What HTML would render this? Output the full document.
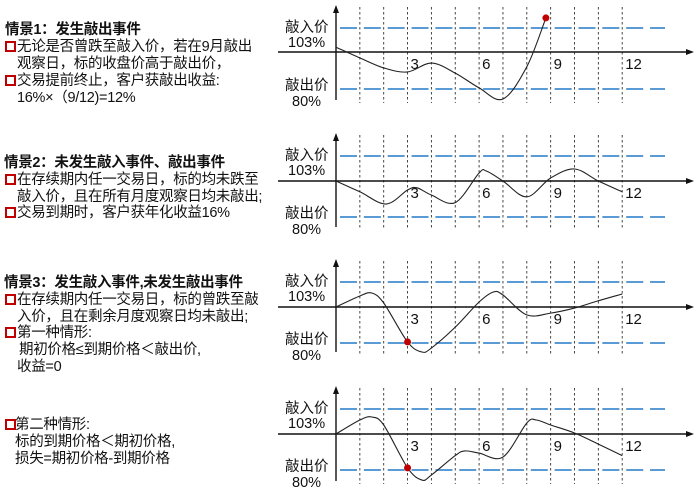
<!DOCTYPE html>
<html><head><meta charset="utf-8">
<style>
body{margin:0;width:700px;height:492px;background:#fff;position:relative;overflow:hidden;font-family:"Liberation Sans","Noto Sans CJK SC",sans-serif;color:#111}
.t{position:absolute;font-size:14.5px;line-height:18px;white-space:nowrap;letter-spacing:-0.3px}
.h{font-weight:bold;font-size:14.5px}
.b{position:absolute;border:2px solid #c00000;box-sizing:content-box;width:7px;height:7px}
svg{position:absolute;left:0;top:0}
</style></head><body>
<div class="t h" style="left:5px;top:21px">情景1：发生敲出事件</div>
<div class="b" style="left:5px;top:41px"></div>
<div class="t" style="left:17px;top:38px">无论是否曾跌至敲入价，若在9月敲出</div>
<div class="t" style="left:17px;top:55px">观察日，标的收盘价高于敲出价，</div>
<div class="b" style="left:5px;top:75px"></div>
<div class="t" style="left:17px;top:72px">交易提前终止，客户获敲出收益:</div>
<div class="t" style="left:17px;top:89px">16%×（9/12)=12%</div>

<div class="t h" style="left:4px;top:154px">情景2：未发生敲入事件、敲出事件</div>
<div class="b" style="left:5px;top:174px"></div>
<div class="t" style="left:17px;top:171px">在存续期内任一交易日，标的均未跌至</div>
<div class="t" style="left:17px;top:188px">敲入价，且在所有月度观察日均未敲出;</div>
<div class="b" style="left:5px;top:207px"></div>
<div class="t" style="left:17px;top:204px">交易到期时，客户获年化收益16%</div>

<div class="t h" style="left:4px;top:274px">情景3：发生敲入事件,未发生敲出事件</div>
<div class="b" style="left:5px;top:294px"></div>
<div class="t" style="left:17px;top:291px">在存续期内任一交易日，标的曾跌至敲</div>
<div class="t" style="left:17px;top:308px">入价，且在剩余月度观察日均未敲出;</div>
<div class="b" style="left:5px;top:327px"></div>
<div class="t" style="left:17px;top:324px">第一种情形:</div>
<div class="t" style="left:19px;top:341px">期初价格≤到期价格＜敲出价,</div>
<div class="t" style="left:17px;top:358px">收益=0</div>
<div class="b" style="left:5px;top:419px"></div>
<div class="t" style="left:15px;top:416px">第二种情形:</div>
<div class="t" style="left:15px;top:433px">标的到期价格＜期初价格,</div>
<div class="t" style="left:15px;top:450px">损失=期初价格-到期价格</div>

<svg id="chart" width="700" height="492"></svg>
<script>
const tickLabels=["3","6","9","12"];
const tickMonths=[3,6,9,12];
const months1=[0,1,2,3,4,5,6,7,8,8.8];
const values1=[0.2,-0.16,-0.43,-0.54,-0.3,-0.57,-0.97,-1.27,-0.4,1.42];
const months2=[0,1,2.1,3,3.4,4,5,6,6.3,7,8,9,10,11,12];
const values2=[0,-0.3,-0.64,-0.25,-0.19,-0.39,-0.6,0.32,0.4,0,-0.44,0.12,0.48,0,-0.3];
const months3=[0,1,1.5,2,3,3.6,4,5,6,6.6,7,8,9,10,11,12];
const values3=[0,0.44,0.56,0.16,-0.97,-1.25,-1.14,-0.56,0.2,0.6,0.48,-0.22,-0.17,-0.03,0.25,0.52];
const months4=[0,1,1.5,2,3,3.6,4,5,5.4,6,7,8,8.4,9,10,11,12];
const values4=[0,0.56,0.68,0.36,-0.94,-1.28,-1.14,-0.6,-0.47,-0.53,-0.64,0.44,0.56,0.36,0.04,-0.28,-0.6];
const dotMonths=[8.8,null,3,3];
const dotValues=[1.42,null,-0.97,-0.94];
const panels=[
 {axis:52,up:28,lo:89,top:5,bot:103,m:months1,v:values1},
 {axis:181,up:156,lo:217,top:133,bot:230,m:months2,v:values2},
 {axis:307,up:282,lo:343,top:259,bot:355,m:months3,v:values3},
 {axis:434,up:409,lo:470,top:386,bot:484,m:months4,v:values4}];
const NS="http://www.w3.org/2000/svg";
const svg=document.getElementById('chart');
function mk(tag,attrs,parent){const e=document.createElementNS(NS,tag);for(const k in attrs)e.setAttribute(k,attrs[k]);(parent||svg).appendChild(e);return e;}
const X0=336,UNIT=23.85;
function xs(m){return X0+m*UNIT;}
panels.forEach((p,pi)=>{
 const g=mk('g',{});
 
 
 const ys=v=>v>=0?p.axis-v*(p.axis-p.up):p.axis-v*(p.lo-p.axis);
 for(let i=1;i<=12;i++){
  const l=mk('line',{x1:xs(i),x2:xs(i),y1:p.top+2,y2:p.bot,stroke:'#333','stroke-width':0.9,'stroke-dasharray':'2.5,2.5'},g);
  
  
 }
 [p.up,p.lo].forEach((y,j)=>{
  const l=mk('line',{x1:340,x2:665,y1:y,y2:y,stroke:'#5b9bd5','stroke-width':2,'stroke-dasharray':'17,6.85'},g);
  
  
 });
 const xa=mk('line',{x1:278,x2:688,y1:p.axis,y2:p.axis,stroke:'#111','stroke-width':1.4},g);
 
 
 mk('path',{d:`M694 ${p.axis} L686 ${p.axis-3} L686 ${p.axis+3}Z`,fill:'#111'},g);
 const ya=mk('line',{x1:336,x2:336,y1:p.top+5,y2:p.bot-3,stroke:'#111','stroke-width':1.4},g);
 
 
 mk('path',{d:`M336 ${p.top} L333 ${p.top+8} L339 ${p.top+8}Z`,fill:'#111'},g);
 tickLabels.forEach((t,k)=>{
  const tx=mk('text',{x:xs(tickMonths[k])+3,y:p.axis+17,'font-size':15,'font-family':'Liberation Sans, sans-serif',fill:'#111'},g);
  tx.textContent=t;
  
  
 });
 [['敲入价',285,p.up+4],['103%',288,p.up+19],['敲出价',285,p.lo+1],['80%',292,p.lo+17]].forEach((a)=>{
  const tx=mk('text',{x:a[1],y:a[2],'font-size':14.5,'font-family':'Liberation Sans, Noto Sans CJK SC, sans-serif',fill:'#111'},g);
  tx.textContent=a[0];
  
  
 });
 const pts=p.m.map((m,i)=>[xs(m),ys(p.v[i])]);
 let d=`M${pts[0][0]} ${pts[0][1]}`;
 for(let i=0;i<pts.length-1;i++){
  const p0=pts[Math.max(0,i-1)],p1=pts[i],p2=pts[i+1],p3=pts[Math.min(pts.length-1,i+2)];
  const c1=[p1[0]+(p2[0]-p0[0])/6,p1[1]+(p2[1]-p0[1])/6],c2=[p2[0]-(p3[0]-p1[0])/6,p2[1]-(p3[1]-p1[1])/6];
  d+=` C${c1[0]} ${c1[1]} ${c2[0]} ${c2[1]} ${p2[0]} ${p2[1]}`;
 }
 const c=mk('path',{d:d,fill:'none',stroke:'#222','stroke-width':1.1},g);
 
 
 if(dotMonths[pi]!==null){
  const dt=mk('circle',{cx:xs(dotMonths[pi]),cy:ys(dotValues[pi]),r:3.5,fill:'#c00000'},g);
  
  
 }
});
</script>
</body></html>
